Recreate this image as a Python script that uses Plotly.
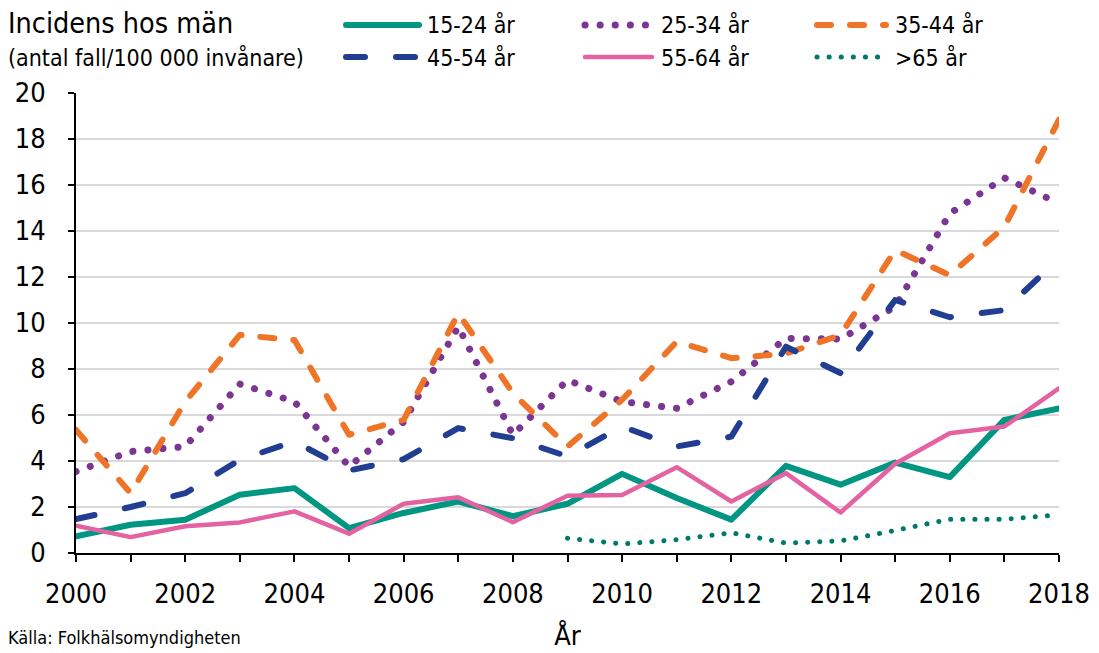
import plotly.graph_objects as go

# Incidence per 100 000 men, by age group
years = list(range(2000, 2019))
inc_15_24 = [0.72, 1.23, 1.45, 2.53, 2.82, 1.08, 1.74, 2.24, 1.6, 2.14, 3.44, 2.39, 1.45, 3.79, 2.97, 3.93, 3.3, 5.79, 6.29]
inc_25_34 = [3.54, 4.41, 4.63, 7.35, 6.58, 3.76, 5.7, 9.84, 5.14, 7.52, 6.58, 6.29, 7.45, 9.33, 9.3, 10.71, 14.76, 16.31, 15.2]
inc_35_44 = [5.35, 2.6, 6.58, 9.48, 9.26, 5.14, 5.79, 10.42, 6.95, 4.63, 6.66, 9.19, 8.47, 8.67, 9.48, 13.17, 12.08, 14.18, 18.84]
inc_45_54 = [1.47, 2.0, 2.6, 4.05, 4.85, 3.59, 4.08, 5.43, 4.99, 4.2, 5.5, 4.63, 5.06, 8.97, 7.82, 11.0, 10.25, 10.56, 12.8]
inc_55_64 = [1.19, 0.69, 1.16, 1.33, 1.81, 0.84, 2.14, 2.42, 1.34, 2.49, 2.52, 3.73, 2.24, 3.47, 1.76, 3.88, 5.21, 5.5, 7.16]
inc_65 = [None] * 9 + [0.64, 0.39, 0.58, 0.88, 0.43, 0.53, 0.98, 1.47, 1.47, 1.66]

age_groups = ["15-24 år", "25-34 år", "35-44 år", "45-54 år", "55-64 år", ">65 år"]
series = [inc_15_24, inc_25_34, inc_35_44, inc_45_54, inc_55_64, inc_65]

title_text = "Incidens hos män"
subtitle_text = "(antal fall/100 000 invånare)"
x_title = "År"
source_text = "Källa: Folkhälsomyndigheten"

FONT = "'DejaVu Sans Condensed', 'Liberation Sans', sans-serif"

styles = [
    dict(color="#009682", width=6, dash="solid"),
    dict(color="#7B3592", width=7, dash="0.1px,15px"),
    dict(color="#EF7427", width=6, dash="14px,19px"),
    dict(color="#213E92", width=6, dash="19px,31px"),
    dict(color="#E462A2", width=4.5, dash="solid"),
    dict(color="#00786A", width=5, dash="0.1px,12px"),
]

# plot-area geometry in pixels
W, H = 1099, 653
ML, MR, MT, MB = 76, 40, 93, 100
PW, PH = W - ML - MR, H - MT - MB


def px_x(p):
    return (p - ML) / PW


def px_y(p):
    return (H - MB - p) / PH


fig = go.Figure()
for name, vals, st in zip(age_groups, series, styles):
    fig.add_trace(go.Scatter(
        x=years, y=vals, mode="lines", name=name, showlegend=False,
        line=dict(color=st["color"], width=st["width"], dash=st["dash"]),
        connectgaps=False, hoverinfo="x+y+name",
    ))

# legend: three columns, two rows
col_line = [(346, 419), (585, 652), (817, 886)]
col_text = [425, 659, 893]
row_y = [25, 57]
shapes = []
annotations = []
for i, (name, st) in enumerate(zip(age_groups, styles)):
    r, c = divmod(i, 3)
    x0, x1 = col_line[c]
    yy = px_y(row_y[r])
    shapes.append(dict(
        type="line", xref="paper", yref="paper",
        x0=px_x(x0), x1=px_x(x1), y0=yy, y1=yy,
        line=dict(color=st["color"], width=st["width"], dash=st["dash"]),
    ))
    annotations.append(dict(
        text=name, xref="paper", yref="paper", x=px_x(col_text[c]), y=yy,
        xanchor="left", yanchor="middle", showarrow=False,
        font=dict(size=23, color="#000000", family=FONT),
    ))

annotations += [
    dict(text=title_text, xref="paper", yref="paper", x=px_x(6), y=px_y(23),
         xanchor="left", yanchor="middle", showarrow=False,
         font=dict(size=28.5, color="#000000", family=FONT)),
    dict(text=subtitle_text, xref="paper", yref="paper", x=px_x(6), y=px_y(57),
         xanchor="left", yanchor="middle", showarrow=False,
         font=dict(size=23, color="#000000", family=FONT)),
    dict(text=source_text, xref="paper", yref="paper", x=px_x(6), y=px_y(625),
         xanchor="left", yanchor="top", showarrow=False,
         font=dict(size=18, color="#000000", family=FONT)),
]

fig.update_layout(
    width=W, height=H,
    margin=dict(l=ML, r=MR, t=MT, b=MB, autoexpand=False),
    paper_bgcolor="white", plot_bgcolor="white",
    font=dict(family=FONT, color="#000000"),
    shapes=shapes, annotations=annotations,
    showlegend=False,
)

fig.update_xaxes(
    range=[2000, 2018], dtick=2, tick0=2000,
    showline=True, linecolor="#000000", linewidth=2,
    ticks="outside", ticklen=7, tickwidth=1.5, tickcolor="#000000",
    minor=dict(dtick=1, ticks="outside", ticklen=7, tickwidth=1.5, tickcolor="#000000", showgrid=False),
    showgrid=False, zeroline=False,
    tickfont=dict(size=27, family=FONT, color="#000000"),
    ticklabelstandoff=9,
    title=dict(text=x_title, font=dict(size=27, family=FONT, color="#000000"), standoff=18),
)
fig.update_yaxes(
    range=[0, 20], dtick=2,
    showline=True, linecolor="#000000", linewidth=2,
    ticks="outside", ticklen=6, tickwidth=1.5, tickcolor="#000000",
    showgrid=True, gridcolor="#D9D9D9", gridwidth=1.5, zeroline=False,
    tickfont=dict(size=27, family=FONT, color="#000000"),
    ticklabelstandoff=17,
)

round_caps = (
    "var s=document.createElement('style');"
    "s.textContent='.scatterlayer path.js-line, .shapelayer path{stroke-linecap:round;stroke-linejoin:round;}';"
    "document.head.appendChild(s);"
)
fig.write_html("out.html", post_script=round_caps)
